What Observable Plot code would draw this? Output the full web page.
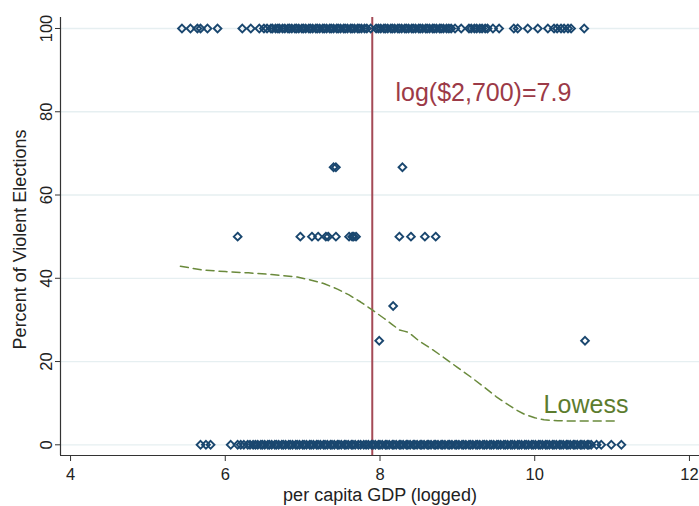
<!DOCTYPE html>
<html>
<head>
<meta charset="utf-8">
<script src="https://cdn.jsdelivr.net/npm/d3@7"></script>
<script src="https://cdn.jsdelivr.net/npm/@observablehq/plot@0.6"></script>
<style>
  html, body { margin: 0; padding: 0; background: #fff; }
  svg { display: block; }
</style>
</head>
<body>
<div id="chart"></div>
<script>
// Share of elections that turned violent, by logged per capita GDP
const gdpAt0 = [5.68, 5.75, 5.81, 6.07, 6.16, 6.20, 6.24, 6.29, 6.32, 6.36,
  6.39, 6.42, 6.46, 6.48, 6.51, 6.55, 6.57, 6.60, 6.64, 6.66, 6.69, 6.73, 6.75, 6.78, 6.82, 6.84,
  6.87, 6.91, 6.93, 6.96, 7.00, 7.02, 7.05, 7.09, 7.11, 7.14, 7.18, 7.20, 7.23, 7.27, 7.29, 7.32,
  7.36, 7.38, 7.41, 7.45, 7.47, 7.50, 7.54, 7.56, 7.59, 7.63, 7.65, 7.68, 7.72, 7.75, 7.79, 7.82,
  7.85, 7.89, 7.91, 7.94, 7.98, 8.00, 8.03, 8.07, 8.09, 8.12, 8.16, 8.18, 8.21, 8.25, 8.27, 8.30,
  8.34, 8.36, 8.39, 8.43, 8.45, 8.48, 8.52, 8.54, 8.57, 8.61, 8.63, 8.66, 8.70, 8.72, 8.75, 8.79,
  8.81, 8.84, 8.88, 8.90, 8.93, 8.97, 8.99, 9.02, 9.06, 9.08, 9.11, 9.15, 9.17, 9.20, 9.24, 9.26,
  9.29, 9.33, 9.35, 9.38, 9.42, 9.44, 9.47, 9.51, 9.53, 9.56, 9.60, 9.62, 9.65, 9.69, 9.71, 9.74,
  9.78, 9.80, 9.83, 9.87, 9.89, 9.92, 9.96, 9.98, 10.01, 10.05, 10.07, 10.10, 10.14, 10.16, 10.19,
  10.23, 10.25, 10.28, 10.32, 10.34, 10.37, 10.41, 10.43, 10.46, 10.50, 10.52, 10.55, 10.59, 10.61,
  10.64, 10.68, 10.70, 10.73, 10.80, 10.86, 10.99, 11.12];
const gdpAt25 = [7.99, 10.65];
const gdpAt33 = [8.17];
const gdpAt50 = [6.16, 6.97, 7.12, 7.20, 7.30, 7.33, 7.43, 7.60, 7.64, 7.66, 7.69, 8.25, 8.40, 8.58, 8.72];
const gdpAt67 = [7.40, 7.43, 8.29];
const gdpAt100 = [5.44, 5.55, 5.64, 5.68, 5.77, 5.90,
  6.22, 6.33, 6.44, 6.50, 6.54,
  6.59, 6.61, 6.65, 6.68, 6.70, 6.74, 6.77, 6.81, 6.83, 6.86, 6.90, 6.92, 6.95, 6.99, 7.01, 7.04,
  7.08, 7.10, 7.13, 7.17, 7.19, 7.22, 7.26, 7.28, 7.31, 7.35, 7.37, 7.40, 7.44, 7.46, 7.49, 7.53,
  7.55, 7.58, 7.62, 7.64, 7.67, 7.71, 7.73, 7.76, 7.80, 7.83, 7.88,
  7.95, 7.98, 8.01, 8.05, 8.07, 8.10, 8.14, 8.16, 8.19, 8.23, 8.25, 8.28, 8.32, 8.34, 8.37, 8.41,
  8.43, 8.46, 8.50, 8.52, 8.55, 8.59, 8.61, 8.64, 8.68, 8.70, 8.73, 8.77, 8.79, 8.82, 8.86, 8.89,
  8.92, 8.97, 9.05,
  9.15, 9.18, 9.22, 9.25, 9.29, 9.32, 9.36, 9.39, 9.46, 9.54,
  9.73, 9.78, 9.91, 10.04, 10.17, 10.25, 10.29, 10.34, 10.38, 10.43, 10.47, 10.64];

// Percent violent for each group of countries above
const violentLevels = [0, 25, 33.33, 50, 66.67, 100];
const gdpByLevel = [gdpAt0, gdpAt25, gdpAt33, gdpAt50, gdpAt67, gdpAt100];

// Lowess smoother of percent violent on logged GDP
const lowessX = [5.42, 5.70, 6.00, 6.30, 6.60, 6.93, 7.10, 7.28, 7.45, 7.60, 7.75, 7.90, 8.05, 8.15,
  8.25, 8.31, 8.37, 8.50, 8.66, 8.83, 9.00, 9.18, 9.35, 9.50, 9.61, 9.75, 9.86, 10.00, 10.12,
  10.30, 10.47, 10.80, 11.07];
const lowessY = [42.9, 42.0, 41.6, 41.3, 40.9, 40.3, 39.6, 38.7, 37.4, 36.0, 34.3, 32.4, 30.4, 29.0,
  27.6, 27.3, 27.0, 25.0, 23.1, 20.9, 18.6, 16.2, 13.8, 11.6, 10.2, 8.5, 7.4, 6.5, 6.0,
  5.8, 5.7, 5.7, 5.7];

// Income cut-off: log($2,700)
const cutoff = 7.9;

const xTicks = [4, 6, 8, 10, 12];
const yTicks = [0, 20, 40, 60, 80, 100];
const xDomain = [3.87, 12.13];
const yDomain = [-2.57, 102.64];

const points = gdpByLevel.flatMap((xs, i) => xs.map(g => ({gdp: g, pct: violentLevels[i]})));
const lowess = lowessX.map((g, i) => ({gdp: g, pct: lowessY[i]}));

const navy = "#1a476f";
const maroon = "#9c3a47";
const olive = "#5c7c2e";

const chart = Plot.plot({
  width: 699,
  height: 506,
  marginLeft: 60,
  marginRight: 0,
  marginTop: 17,
  marginBottom: 51,
  style: {
    fontFamily: "'Liberation Sans', Arial, Helvetica, sans-serif",
    background: "#fff",
    color: "#222"
  },
  x: {domain: xDomain},
  y: {domain: yDomain},
  marks: [
    Plot.gridY(yTicks, {stroke: "#e6eff1", strokeOpacity: 1, strokeWidth: 1.3}),
    Plot.axisY(yTicks, {tickRotate: -90, tickSize: 5, fontSize: 16.5, label: null, stroke: "#333"}),
    Plot.axisX(xTicks, {tickSize: 6, tickPadding: 7, fontSize: 16.5, label: null, stroke: "#333"}),
    Plot.ruleX([xDomain[0]], {stroke: "#333", strokeWidth: 1.2}),
    Plot.ruleY([yDomain[0]], {stroke: "#333", strokeWidth: 1.2}),
    Plot.ruleX([cutoff], {stroke: "#a44a56", strokeWidth: 2}),
    Plot.line(lowess, {x: "gdp", y: "pct", stroke: "#6a8a3c", strokeWidth: 1.5, strokeDasharray: "8,5"}),
    Plot.dot(points, {x: "gdp", y: "pct", symbol: "diamond2", r: 3.5, fill: "none", stroke: navy, strokeWidth: 1.9}),
    Plot.text(["log($2,700)=7.9"], {x: cutoff + 0.30, y: 84.6, text: d => d, textAnchor: "start", fontSize: 25, fill: maroon}),
    Plot.text(["Lowess"], {x: lowessX[lowessX.length - 1] - 0.955, y: 9.6, text: d => d, textAnchor: "start", fontSize: 25, fill: olive}),
    Plot.text(["per capita GDP (logged)"], {frameAnchor: "bottom", dy: 40, text: d => d, textAnchor: "middle", lineAnchor: "middle", fontSize: 18, fill: "#222"}),
    Plot.text(["Percent of Violent Elections"], {frameAnchor: "left", dx: -40, dy: 3, rotate: -90, text: d => d, textAnchor: "middle", lineAnchor: "middle", fontSize: 18, fill: "#222"})
  ]
});

document.getElementById("chart").appendChild(chart);
</script>
</body>
</html>
